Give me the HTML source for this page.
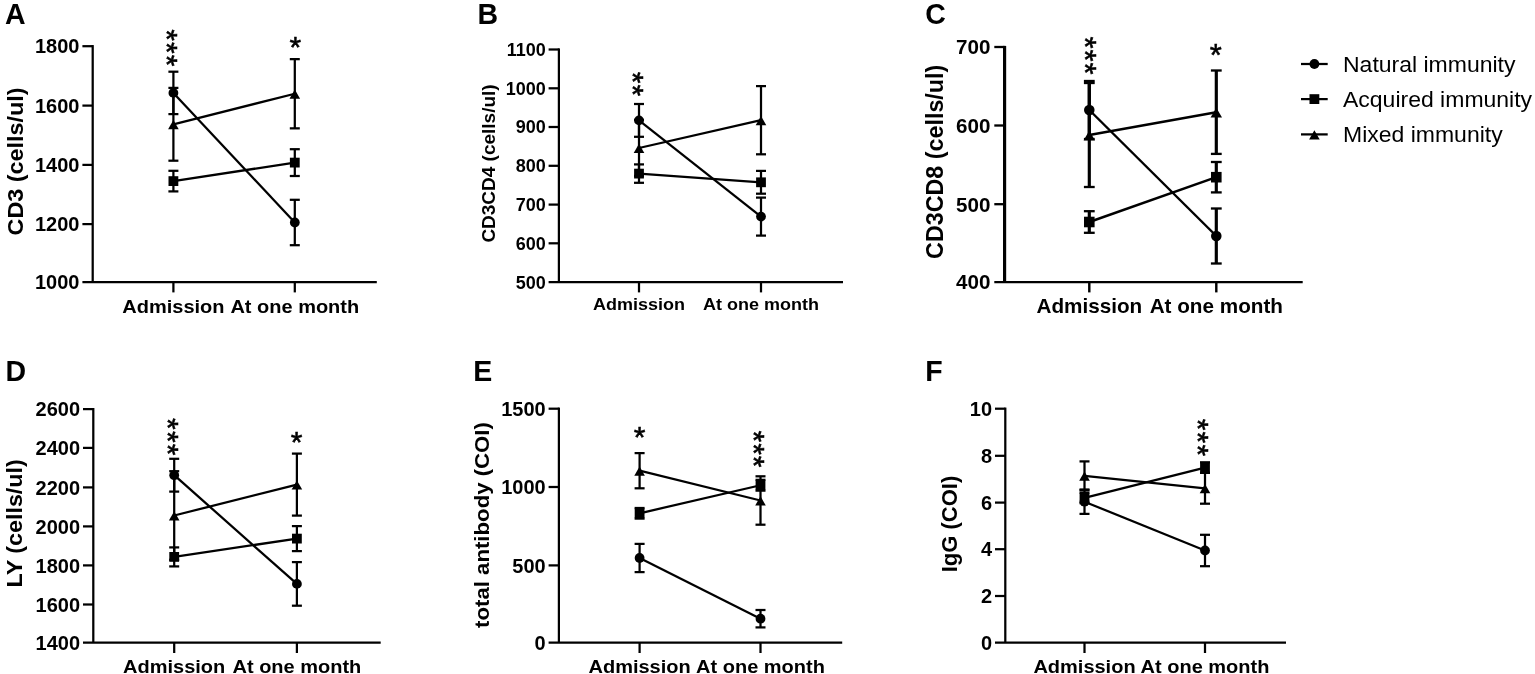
<!DOCTYPE html>
<html lang="en">
<head>
<meta charset="utf-8">
<title>Immunity figure</title>
<style>
html,body{margin:0;padding:0;background:#fff;}
body{width:1535px;height:674px;overflow:hidden;}
svg{display:block;}
svg text{font-family:'Liberation Sans', sans-serif;fill:#000;}
svg line{stroke:#000;fill:none;}
svg circle,svg rect,svg path{fill:#000;stroke:none;}
</style>
</head>
<body>
<svg width="1535" height="674" viewBox="0 0 1535 674">
<rect x="0" y="0" width="1535" height="674" style="fill:#fff"/>
<g id="panelA">
<text transform="translate(4.9,24.0) scale(1,1.03)" font-size="28.5" font-weight="bold">A</text>
<line x1="92.70" y1="45.07" x2="92.70" y2="282.10" stroke-width="2.25"/>
<line x1="82.40" y1="282.10" x2="376.80" y2="282.10" stroke-width="2.25"/>
<line x1="82.40" y1="46.20" x2="92.70" y2="46.20" stroke-width="2.25"/>
<text x="79.50" y="53.36" font-size="20" font-weight="bold" text-anchor="end">1800</text>
<line x1="82.40" y1="105.60" x2="92.70" y2="105.60" stroke-width="2.25"/>
<text x="79.50" y="112.76" font-size="20" font-weight="bold" text-anchor="end">1600</text>
<line x1="82.40" y1="164.90" x2="92.70" y2="164.90" stroke-width="2.25"/>
<text x="79.50" y="172.06" font-size="20" font-weight="bold" text-anchor="end">1400</text>
<line x1="82.40" y1="224.10" x2="92.70" y2="224.10" stroke-width="2.25"/>
<text x="79.50" y="231.26" font-size="20" font-weight="bold" text-anchor="end">1200</text>
<text x="79.50" y="289.26" font-size="20" font-weight="bold" text-anchor="end">1000</text>
<line x1="173.40" y1="282.10" x2="173.40" y2="292.40" stroke-width="2.25"/>
<text transform="translate(173.40,312.5) scale(1.07,1)" font-size="18.69" font-weight="bold" text-anchor="middle">Admission</text>
<line x1="294.80" y1="282.10" x2="294.80" y2="292.40" stroke-width="2.25"/>
<text transform="translate(294.80,312.5) scale(1.07,1)" font-size="18.69" font-weight="bold" text-anchor="middle">At one month</text>
<text transform="translate(22.6,161.4) rotate(-90) scale(1.07,1)" font-size="21.87" font-weight="bold" text-anchor="middle">CD3 (cells/ul)</text>
<line x1="173.40" y1="71.70" x2="173.40" y2="114.10" stroke-width="2.25"/>
<line x1="168.40" y1="71.70" x2="178.40" y2="71.70" stroke-width="2.25"/>
<line x1="168.40" y1="114.10" x2="178.40" y2="114.10" stroke-width="2.25"/>
<line x1="294.80" y1="199.80" x2="294.80" y2="245.20" stroke-width="2.25"/>
<line x1="289.80" y1="199.80" x2="299.80" y2="199.80" stroke-width="2.25"/>
<line x1="289.80" y1="245.20" x2="299.80" y2="245.20" stroke-width="2.25"/>
<line x1="173.40" y1="92.90" x2="294.80" y2="222.50" stroke-width="2.25"/>
<circle cx="173.40" cy="92.90" r="4.90"/>
<circle cx="294.80" cy="222.50" r="4.90"/>
<line x1="173.40" y1="170.80" x2="173.40" y2="191.40" stroke-width="2.25"/>
<line x1="168.40" y1="170.80" x2="178.40" y2="170.80" stroke-width="2.25"/>
<line x1="168.40" y1="191.40" x2="178.40" y2="191.40" stroke-width="2.25"/>
<line x1="294.80" y1="149.20" x2="294.80" y2="176.00" stroke-width="2.25"/>
<line x1="289.80" y1="149.20" x2="299.80" y2="149.20" stroke-width="2.25"/>
<line x1="289.80" y1="176.00" x2="299.80" y2="176.00" stroke-width="2.25"/>
<line x1="173.40" y1="181.10" x2="294.80" y2="162.60" stroke-width="2.25"/>
<rect x="168.50" y="176.20" width="9.80" height="9.80"/>
<rect x="289.90" y="157.70" width="9.80" height="9.80"/>
<line x1="173.40" y1="87.90" x2="173.40" y2="160.70" stroke-width="2.25"/>
<line x1="168.40" y1="87.90" x2="178.40" y2="87.90" stroke-width="2.25"/>
<line x1="168.40" y1="160.70" x2="178.40" y2="160.70" stroke-width="2.25"/>
<line x1="294.80" y1="59.15" x2="294.80" y2="128.35" stroke-width="2.25"/>
<line x1="289.80" y1="59.15" x2="299.80" y2="59.15" stroke-width="2.25"/>
<line x1="289.80" y1="128.35" x2="299.80" y2="128.35" stroke-width="2.25"/>
<line x1="173.40" y1="124.30" x2="294.80" y2="93.75" stroke-width="2.25"/>
<path d="M173.40 120.10 L178.70 129.30 L168.10 129.30 Z"/>
<path d="M294.80 89.55 L300.10 98.75 L289.50 98.75 Z"/>
<text transform="translate(172.45,34.90) rotate(90)" x="-5.78" y="15.45" font-size="30.0" style="stroke:#000;stroke-width:0.55px">*</text>
<text transform="translate(172.45,47.80) rotate(90)" x="-5.78" y="15.45" font-size="30.0" style="stroke:#000;stroke-width:0.55px">*</text>
<text transform="translate(172.45,60.50) rotate(90)" x="-5.78" y="15.45" font-size="30.0" style="stroke:#000;stroke-width:0.55px">*</text>
<text x="289.53" y="57.25" font-size="30.0" style="stroke:#000;stroke-width:0.55px">*</text>
</g>
<g id="panelB">
<text transform="translate(477.5,24.0) scale(1,1.03)" font-size="28.5" font-weight="bold">B</text>
<line x1="558.90" y1="48.38" x2="558.90" y2="282.10" stroke-width="2.25"/>
<line x1="548.60" y1="282.10" x2="843.00" y2="282.10" stroke-width="2.25"/>
<line x1="548.60" y1="49.50" x2="558.90" y2="49.50" stroke-width="2.25"/>
<text x="545.70" y="55.94" font-size="18" font-weight="bold" text-anchor="end">1100</text>
<line x1="548.60" y1="88.30" x2="558.90" y2="88.30" stroke-width="2.25"/>
<text x="545.70" y="94.74" font-size="18" font-weight="bold" text-anchor="end">1000</text>
<line x1="548.60" y1="127.00" x2="558.90" y2="127.00" stroke-width="2.25"/>
<text x="545.70" y="133.44" font-size="18" font-weight="bold" text-anchor="end">900</text>
<line x1="548.60" y1="165.80" x2="558.90" y2="165.80" stroke-width="2.25"/>
<text x="545.70" y="172.24" font-size="18" font-weight="bold" text-anchor="end">800</text>
<line x1="548.60" y1="204.60" x2="558.90" y2="204.60" stroke-width="2.25"/>
<text x="545.70" y="211.04" font-size="18" font-weight="bold" text-anchor="end">700</text>
<line x1="548.60" y1="243.30" x2="558.90" y2="243.30" stroke-width="2.25"/>
<text x="545.70" y="249.74" font-size="18" font-weight="bold" text-anchor="end">600</text>
<text x="545.70" y="288.54" font-size="18" font-weight="bold" text-anchor="end">500</text>
<line x1="639.00" y1="282.10" x2="639.00" y2="292.40" stroke-width="2.25"/>
<text transform="translate(639.00,310.0) scale(1.07,1)" font-size="16.82" font-weight="bold" text-anchor="middle">Admission</text>
<line x1="761.00" y1="282.10" x2="761.00" y2="292.40" stroke-width="2.25"/>
<text transform="translate(761.00,310.0) scale(1.07,1)" font-size="16.82" font-weight="bold" text-anchor="middle">At one month</text>
<text transform="translate(495.4,163.5) rotate(-90) scale(1.07,1)" font-size="17.76" font-weight="bold" text-anchor="middle">CD3CD4 (cells/ul)</text>
<line x1="639.00" y1="104.00" x2="639.00" y2="136.80" stroke-width="2.25"/>
<line x1="634.00" y1="104.00" x2="644.00" y2="104.00" stroke-width="2.25"/>
<line x1="634.00" y1="136.80" x2="644.00" y2="136.80" stroke-width="2.25"/>
<line x1="761.00" y1="197.60" x2="761.00" y2="235.60" stroke-width="2.25"/>
<line x1="756.00" y1="197.60" x2="766.00" y2="197.60" stroke-width="2.25"/>
<line x1="756.00" y1="235.60" x2="766.00" y2="235.60" stroke-width="2.25"/>
<line x1="639.00" y1="120.40" x2="761.00" y2="216.60" stroke-width="2.25"/>
<circle cx="639.00" cy="120.40" r="4.90"/>
<circle cx="761.00" cy="216.60" r="4.90"/>
<line x1="639.00" y1="164.40" x2="639.00" y2="182.80" stroke-width="2.25"/>
<line x1="634.00" y1="164.40" x2="644.00" y2="164.40" stroke-width="2.25"/>
<line x1="634.00" y1="182.80" x2="644.00" y2="182.80" stroke-width="2.25"/>
<line x1="761.00" y1="170.90" x2="761.00" y2="193.70" stroke-width="2.25"/>
<line x1="756.00" y1="170.90" x2="766.00" y2="170.90" stroke-width="2.25"/>
<line x1="756.00" y1="193.70" x2="766.00" y2="193.70" stroke-width="2.25"/>
<line x1="639.00" y1="173.60" x2="761.00" y2="182.30" stroke-width="2.25"/>
<rect x="634.10" y="168.70" width="9.80" height="9.80"/>
<rect x="756.10" y="177.40" width="9.80" height="9.80"/>
<line x1="639.00" y1="120.00" x2="639.00" y2="176.00" stroke-width="2.25"/>
<line x1="634.00" y1="120.00" x2="644.00" y2="120.00" stroke-width="2.25"/>
<line x1="634.00" y1="176.00" x2="644.00" y2="176.00" stroke-width="2.25"/>
<line x1="761.00" y1="86.10" x2="761.00" y2="154.30" stroke-width="2.25"/>
<line x1="756.00" y1="86.10" x2="766.00" y2="86.10" stroke-width="2.25"/>
<line x1="756.00" y1="154.30" x2="766.00" y2="154.30" stroke-width="2.25"/>
<line x1="639.00" y1="148.00" x2="761.00" y2="120.20" stroke-width="2.25"/>
<path d="M639.00 143.80 L644.30 153.00 L633.70 153.00 Z"/>
<path d="M761.00 116.00 L766.30 125.20 L755.70 125.20 Z"/>
<text transform="translate(638.50,77.50) rotate(90)" x="-5.78" y="15.45" font-size="30.0" style="stroke:#000;stroke-width:0.55px">*</text>
<text transform="translate(638.50,90.20) rotate(90)" x="-5.78" y="15.45" font-size="30.0" style="stroke:#000;stroke-width:0.55px">*</text>
</g>
<g id="panelC">
<text transform="translate(925.2,24.0) scale(1,1.03)" font-size="28.5" font-weight="bold">C</text>
<line x1="1004.60" y1="45.88" x2="1004.60" y2="282.10" stroke-width="3.16"/>
<line x1="994.30" y1="282.10" x2="1302.70" y2="282.10" stroke-width="2.31"/>
<line x1="994.30" y1="47.00" x2="1004.60" y2="47.00" stroke-width="2.31"/>
<text x="990.40" y="54.37" font-size="20.6" font-weight="bold" text-anchor="end">700</text>
<line x1="994.30" y1="125.50" x2="1004.60" y2="125.50" stroke-width="2.31"/>
<text x="990.40" y="132.87" font-size="20.6" font-weight="bold" text-anchor="end">600</text>
<line x1="994.30" y1="204.20" x2="1004.60" y2="204.20" stroke-width="2.31"/>
<text x="990.40" y="211.57" font-size="20.6" font-weight="bold" text-anchor="end">500</text>
<text x="990.40" y="289.47" font-size="20.6" font-weight="bold" text-anchor="end">400</text>
<line x1="1089.30" y1="282.10" x2="1089.30" y2="292.40" stroke-width="2.43"/>
<text transform="translate(1089.30,312.5) scale(1.07,1)" font-size="19.35" font-weight="bold" text-anchor="middle">Admission</text>
<line x1="1216.30" y1="282.10" x2="1216.30" y2="292.40" stroke-width="2.43"/>
<text transform="translate(1216.30,312.5) scale(1.07,1)" font-size="19.35" font-weight="bold" text-anchor="middle">At one month</text>
<text transform="translate(943.3,161.8) rotate(-90) scale(1.0,1)" font-size="23.30" font-weight="bold" text-anchor="middle">CD3CD8 (cells/ul)</text>
<line x1="1089.30" y1="81.00" x2="1089.30" y2="139.00" stroke-width="3.16"/>
<line x1="1083.90" y1="81.00" x2="1094.70" y2="81.00" stroke-width="2.31"/>
<line x1="1083.90" y1="139.00" x2="1094.70" y2="139.00" stroke-width="2.31"/>
<line x1="1216.30" y1="208.50" x2="1216.30" y2="263.50" stroke-width="3.16"/>
<line x1="1210.90" y1="208.50" x2="1221.70" y2="208.50" stroke-width="2.31"/>
<line x1="1210.90" y1="263.50" x2="1221.70" y2="263.50" stroke-width="2.31"/>
<line x1="1089.30" y1="110.00" x2="1216.30" y2="236.00" stroke-width="2.43"/>
<circle cx="1089.30" cy="110.00" r="5.29"/>
<circle cx="1216.30" cy="236.00" r="5.29"/>
<line x1="1089.30" y1="211.20" x2="1089.30" y2="232.80" stroke-width="3.16"/>
<line x1="1083.90" y1="211.20" x2="1094.70" y2="211.20" stroke-width="2.31"/>
<line x1="1083.90" y1="232.80" x2="1094.70" y2="232.80" stroke-width="2.31"/>
<line x1="1216.30" y1="162.00" x2="1216.30" y2="192.40" stroke-width="3.16"/>
<line x1="1210.90" y1="162.00" x2="1221.70" y2="162.00" stroke-width="2.31"/>
<line x1="1210.90" y1="192.40" x2="1221.70" y2="192.40" stroke-width="2.31"/>
<line x1="1089.30" y1="222.00" x2="1216.30" y2="177.20" stroke-width="2.43"/>
<rect x="1084.01" y="216.71" width="10.58" height="10.58"/>
<rect x="1211.01" y="171.91" width="10.58" height="10.58"/>
<line x1="1089.30" y1="83.00" x2="1089.30" y2="187.00" stroke-width="3.16"/>
<line x1="1083.90" y1="83.00" x2="1094.70" y2="83.00" stroke-width="2.31"/>
<line x1="1083.90" y1="187.00" x2="1094.70" y2="187.00" stroke-width="2.31"/>
<line x1="1216.30" y1="70.50" x2="1216.30" y2="153.90" stroke-width="3.16"/>
<line x1="1210.90" y1="70.50" x2="1221.70" y2="70.50" stroke-width="2.31"/>
<line x1="1210.90" y1="153.90" x2="1221.70" y2="153.90" stroke-width="2.31"/>
<line x1="1089.30" y1="135.00" x2="1216.30" y2="112.20" stroke-width="2.43"/>
<path d="M1089.30 130.46 L1095.02 140.40 L1083.58 140.40 Z"/>
<path d="M1216.30 107.66 L1222.02 117.60 L1210.58 117.60 Z"/>
<text transform="translate(1090.30,42.50) rotate(90)" x="-5.95" y="15.91" font-size="30.900000000000002" style="stroke:#000;stroke-width:0.55px">*</text>
<text transform="translate(1090.30,55.40) rotate(90)" x="-5.95" y="15.91" font-size="30.900000000000002" style="stroke:#000;stroke-width:0.55px">*</text>
<text transform="translate(1090.30,68.40) rotate(90)" x="-5.95" y="15.91" font-size="30.900000000000002" style="stroke:#000;stroke-width:0.55px">*</text>
<text x="1209.85" y="66.31" font-size="30.900000000000002" style="stroke:#000;stroke-width:0.55px">*</text>
</g>
<g id="panelD">
<text transform="translate(5.4,380.9) scale(1,1.03)" font-size="28.5" font-weight="bold">D</text>
<line x1="93.30" y1="407.97" x2="93.30" y2="642.70" stroke-width="2.25"/>
<line x1="83.00" y1="642.70" x2="380.70" y2="642.70" stroke-width="2.25"/>
<line x1="83.00" y1="409.10" x2="93.30" y2="409.10" stroke-width="2.25"/>
<text x="80.10" y="416.26" font-size="20" font-weight="bold" text-anchor="end">2600</text>
<line x1="83.00" y1="447.90" x2="93.30" y2="447.90" stroke-width="2.25"/>
<text x="80.10" y="455.06" font-size="20" font-weight="bold" text-anchor="end">2400</text>
<line x1="83.00" y1="487.40" x2="93.30" y2="487.40" stroke-width="2.25"/>
<text x="80.10" y="494.56" font-size="20" font-weight="bold" text-anchor="end">2200</text>
<line x1="83.00" y1="526.40" x2="93.30" y2="526.40" stroke-width="2.25"/>
<text x="80.10" y="533.56" font-size="20" font-weight="bold" text-anchor="end">2000</text>
<line x1="83.00" y1="565.40" x2="93.30" y2="565.40" stroke-width="2.25"/>
<text x="80.10" y="572.56" font-size="20" font-weight="bold" text-anchor="end">1800</text>
<line x1="83.00" y1="604.50" x2="93.30" y2="604.50" stroke-width="2.25"/>
<text x="80.10" y="611.66" font-size="20" font-weight="bold" text-anchor="end">1600</text>
<text x="80.10" y="649.86" font-size="20" font-weight="bold" text-anchor="end">1400</text>
<line x1="174.20" y1="642.70" x2="174.20" y2="653.00" stroke-width="2.25"/>
<text transform="translate(174.20,672.7) scale(1.07,1)" font-size="18.69" font-weight="bold" text-anchor="middle">Admission</text>
<line x1="296.90" y1="642.70" x2="296.90" y2="653.00" stroke-width="2.25"/>
<text transform="translate(296.90,672.7) scale(1.07,1)" font-size="18.69" font-weight="bold" text-anchor="middle">At one month</text>
<text transform="translate(21.9,523.3) rotate(-90) scale(1.07,1)" font-size="21.78" font-weight="bold" text-anchor="middle">LY (cells/ul)</text>
<line x1="174.20" y1="458.80" x2="174.20" y2="491.60" stroke-width="2.25"/>
<line x1="169.20" y1="458.80" x2="179.20" y2="458.80" stroke-width="2.25"/>
<line x1="169.20" y1="491.60" x2="179.20" y2="491.60" stroke-width="2.25"/>
<line x1="296.90" y1="562.10" x2="296.90" y2="605.70" stroke-width="2.25"/>
<line x1="291.90" y1="562.10" x2="301.90" y2="562.10" stroke-width="2.25"/>
<line x1="291.90" y1="605.70" x2="301.90" y2="605.70" stroke-width="2.25"/>
<line x1="174.20" y1="475.20" x2="296.90" y2="583.90" stroke-width="2.25"/>
<circle cx="174.20" cy="475.20" r="4.90"/>
<circle cx="296.90" cy="583.90" r="4.90"/>
<line x1="174.20" y1="547.40" x2="174.20" y2="566.40" stroke-width="2.25"/>
<line x1="169.20" y1="547.40" x2="179.20" y2="547.40" stroke-width="2.25"/>
<line x1="169.20" y1="566.40" x2="179.20" y2="566.40" stroke-width="2.25"/>
<line x1="296.90" y1="526.10" x2="296.90" y2="551.10" stroke-width="2.25"/>
<line x1="291.90" y1="526.10" x2="301.90" y2="526.10" stroke-width="2.25"/>
<line x1="291.90" y1="551.10" x2="301.90" y2="551.10" stroke-width="2.25"/>
<line x1="174.20" y1="556.90" x2="296.90" y2="538.60" stroke-width="2.25"/>
<rect x="169.30" y="552.00" width="9.80" height="9.80"/>
<rect x="292.00" y="533.70" width="9.80" height="9.80"/>
<line x1="174.20" y1="471.20" x2="174.20" y2="559.80" stroke-width="2.25"/>
<line x1="169.20" y1="471.20" x2="179.20" y2="471.20" stroke-width="2.25"/>
<line x1="169.20" y1="559.80" x2="179.20" y2="559.80" stroke-width="2.25"/>
<line x1="296.90" y1="453.60" x2="296.90" y2="515.60" stroke-width="2.25"/>
<line x1="291.90" y1="453.60" x2="301.90" y2="453.60" stroke-width="2.25"/>
<line x1="291.90" y1="515.60" x2="301.90" y2="515.60" stroke-width="2.25"/>
<line x1="174.20" y1="515.50" x2="296.90" y2="484.60" stroke-width="2.25"/>
<path d="M174.20 511.30 L179.50 520.50 L168.90 520.50 Z"/>
<path d="M296.90 480.40 L302.20 489.60 L291.60 489.60 Z"/>
<text transform="translate(173.70,423.80) rotate(90)" x="-5.78" y="15.45" font-size="30.0" style="stroke:#000;stroke-width:0.55px">*</text>
<text transform="translate(173.70,436.70) rotate(90)" x="-5.78" y="15.45" font-size="30.0" style="stroke:#000;stroke-width:0.55px">*</text>
<text transform="translate(173.70,449.40) rotate(90)" x="-5.78" y="15.45" font-size="30.0" style="stroke:#000;stroke-width:0.55px">*</text>
<text x="290.83" y="451.95" font-size="30.0" style="stroke:#000;stroke-width:0.55px">*</text>
</g>
<g id="panelE">
<text transform="translate(473.2,380.9) scale(1,1.03)" font-size="28.5" font-weight="bold">E</text>
<line x1="558.90" y1="407.57" x2="558.90" y2="642.70" stroke-width="2.25"/>
<line x1="548.60" y1="642.70" x2="842.20" y2="642.70" stroke-width="2.25"/>
<line x1="548.60" y1="408.70" x2="558.90" y2="408.70" stroke-width="2.25"/>
<text x="545.70" y="415.86" font-size="20" font-weight="bold" text-anchor="end">1500</text>
<line x1="548.60" y1="487.00" x2="558.90" y2="487.00" stroke-width="2.25"/>
<text x="545.70" y="494.16" font-size="20" font-weight="bold" text-anchor="end">1000</text>
<line x1="548.60" y1="565.40" x2="558.90" y2="565.40" stroke-width="2.25"/>
<text x="545.70" y="572.56" font-size="20" font-weight="bold" text-anchor="end">500</text>
<text x="545.70" y="649.86" font-size="20" font-weight="bold" text-anchor="end">0</text>
<line x1="639.60" y1="642.70" x2="639.60" y2="653.00" stroke-width="2.25"/>
<text transform="translate(639.60,672.7) scale(1.07,1)" font-size="18.69" font-weight="bold" text-anchor="middle">Admission</text>
<line x1="760.50" y1="642.70" x2="760.50" y2="653.00" stroke-width="2.25"/>
<text transform="translate(760.50,672.7) scale(1.07,1)" font-size="18.69" font-weight="bold" text-anchor="middle">At one month</text>
<text transform="translate(489.4,525.0) rotate(-90) scale(1.07,1)" font-size="20.75" font-weight="bold" text-anchor="middle">total antibody (COI)</text>
<line x1="639.60" y1="543.90" x2="639.60" y2="572.10" stroke-width="2.25"/>
<line x1="634.60" y1="543.90" x2="644.60" y2="543.90" stroke-width="2.25"/>
<line x1="634.60" y1="572.10" x2="644.60" y2="572.10" stroke-width="2.25"/>
<line x1="760.50" y1="610.00" x2="760.50" y2="627.40" stroke-width="2.25"/>
<line x1="755.50" y1="610.00" x2="765.50" y2="610.00" stroke-width="2.25"/>
<line x1="755.50" y1="627.40" x2="765.50" y2="627.40" stroke-width="2.25"/>
<line x1="639.60" y1="558.00" x2="760.50" y2="618.70" stroke-width="2.25"/>
<circle cx="639.60" cy="558.00" r="4.90"/>
<circle cx="760.50" cy="618.70" r="4.90"/>
<line x1="639.60" y1="508.00" x2="639.60" y2="518.60" stroke-width="2.25"/>
<line x1="634.60" y1="508.00" x2="644.60" y2="508.00" stroke-width="2.25"/>
<line x1="634.60" y1="518.60" x2="644.60" y2="518.60" stroke-width="2.25"/>
<line x1="760.50" y1="479.85" x2="760.50" y2="490.65" stroke-width="2.25"/>
<line x1="755.50" y1="479.85" x2="765.50" y2="479.85" stroke-width="2.25"/>
<line x1="755.50" y1="490.65" x2="765.50" y2="490.65" stroke-width="2.25"/>
<line x1="639.60" y1="513.30" x2="760.50" y2="485.25" stroke-width="2.25"/>
<rect x="634.70" y="508.40" width="9.80" height="9.80"/>
<rect x="755.60" y="480.35" width="9.80" height="9.80"/>
<line x1="639.60" y1="453.10" x2="639.60" y2="488.30" stroke-width="2.25"/>
<line x1="634.60" y1="453.10" x2="644.60" y2="453.10" stroke-width="2.25"/>
<line x1="634.60" y1="488.30" x2="644.60" y2="488.30" stroke-width="2.25"/>
<line x1="760.50" y1="476.30" x2="760.50" y2="524.70" stroke-width="2.25"/>
<line x1="755.50" y1="476.30" x2="765.50" y2="476.30" stroke-width="2.25"/>
<line x1="755.50" y1="524.70" x2="765.50" y2="524.70" stroke-width="2.25"/>
<line x1="639.60" y1="470.70" x2="760.50" y2="500.50" stroke-width="2.25"/>
<path d="M639.60 466.50 L644.90 475.70 L634.30 475.70 Z"/>
<path d="M760.50 496.30 L765.80 505.50 L755.20 505.50 Z"/>
<text x="633.83" y="447.25" font-size="30.0" style="stroke:#000;stroke-width:0.55px">*</text>
<text transform="translate(759.70,436.20) rotate(90)" x="-5.78" y="15.45" font-size="30.0" style="stroke:#000;stroke-width:0.55px">*</text>
<text transform="translate(759.70,448.90) rotate(90)" x="-5.78" y="15.45" font-size="30.0" style="stroke:#000;stroke-width:0.55px">*</text>
<text transform="translate(759.70,461.60) rotate(90)" x="-5.78" y="15.45" font-size="30.0" style="stroke:#000;stroke-width:0.55px">*</text>
</g>
<g id="panelF">
<text transform="translate(925.2,380.9) scale(1,1.03)" font-size="28.5" font-weight="bold">F</text>
<line x1="1005.30" y1="407.57" x2="1005.30" y2="642.70" stroke-width="2.25"/>
<line x1="995.00" y1="642.70" x2="1286.00" y2="642.70" stroke-width="2.25"/>
<line x1="995.00" y1="408.70" x2="1005.30" y2="408.70" stroke-width="2.25"/>
<text x="992.10" y="415.86" font-size="20" font-weight="bold" text-anchor="end">10</text>
<line x1="995.00" y1="455.80" x2="1005.30" y2="455.80" stroke-width="2.25"/>
<text x="992.10" y="462.96" font-size="20" font-weight="bold" text-anchor="end">8</text>
<line x1="995.00" y1="502.60" x2="1005.30" y2="502.60" stroke-width="2.25"/>
<text x="992.10" y="509.76" font-size="20" font-weight="bold" text-anchor="end">6</text>
<line x1="995.00" y1="549.20" x2="1005.30" y2="549.20" stroke-width="2.25"/>
<text x="992.10" y="556.36" font-size="20" font-weight="bold" text-anchor="end">4</text>
<line x1="995.00" y1="596.00" x2="1005.30" y2="596.00" stroke-width="2.25"/>
<text x="992.10" y="603.16" font-size="20" font-weight="bold" text-anchor="end">2</text>
<text x="992.10" y="649.86" font-size="20" font-weight="bold" text-anchor="end">0</text>
<line x1="1084.50" y1="642.70" x2="1084.50" y2="653.00" stroke-width="2.25"/>
<text transform="translate(1084.50,672.7) scale(1.07,1)" font-size="18.69" font-weight="bold" text-anchor="middle">Admission</text>
<line x1="1205.00" y1="642.70" x2="1205.00" y2="653.00" stroke-width="2.25"/>
<text transform="translate(1205.00,672.7) scale(1.07,1)" font-size="18.69" font-weight="bold" text-anchor="middle">At one month</text>
<text transform="translate(956.6,524) rotate(-90) scale(1.0,1)" font-size="22.00" font-weight="bold" text-anchor="middle">IgG (COI)</text>
<line x1="1084.50" y1="489.50" x2="1084.50" y2="513.90" stroke-width="2.25"/>
<line x1="1079.50" y1="489.50" x2="1089.50" y2="489.50" stroke-width="2.25"/>
<line x1="1079.50" y1="513.90" x2="1089.50" y2="513.90" stroke-width="2.25"/>
<line x1="1205.00" y1="534.80" x2="1205.00" y2="566.20" stroke-width="2.25"/>
<line x1="1200.00" y1="534.80" x2="1210.00" y2="534.80" stroke-width="2.25"/>
<line x1="1200.00" y1="566.20" x2="1210.00" y2="566.20" stroke-width="2.25"/>
<line x1="1084.50" y1="501.70" x2="1205.00" y2="550.50" stroke-width="2.25"/>
<circle cx="1084.50" cy="501.70" r="4.90"/>
<circle cx="1205.00" cy="550.50" r="4.90"/>
<line x1="1084.50" y1="492.60" x2="1084.50" y2="503.20" stroke-width="2.25"/>
<line x1="1079.50" y1="492.60" x2="1089.50" y2="492.60" stroke-width="2.25"/>
<line x1="1079.50" y1="503.20" x2="1089.50" y2="503.20" stroke-width="2.25"/>
<line x1="1205.00" y1="462.30" x2="1205.00" y2="472.90" stroke-width="2.25"/>
<line x1="1200.00" y1="462.30" x2="1210.00" y2="462.30" stroke-width="2.25"/>
<line x1="1200.00" y1="472.90" x2="1210.00" y2="472.90" stroke-width="2.25"/>
<line x1="1084.50" y1="497.90" x2="1205.00" y2="467.60" stroke-width="2.25"/>
<rect x="1079.60" y="493.00" width="9.80" height="9.80"/>
<rect x="1200.10" y="462.70" width="9.80" height="9.80"/>
<line x1="1084.50" y1="461.40" x2="1084.50" y2="490.20" stroke-width="2.25"/>
<line x1="1079.50" y1="461.40" x2="1089.50" y2="461.40" stroke-width="2.25"/>
<line x1="1079.50" y1="490.20" x2="1089.50" y2="490.20" stroke-width="2.25"/>
<line x1="1205.00" y1="472.90" x2="1205.00" y2="503.70" stroke-width="2.25"/>
<line x1="1200.00" y1="472.90" x2="1210.00" y2="472.90" stroke-width="2.25"/>
<line x1="1200.00" y1="503.70" x2="1210.00" y2="503.70" stroke-width="2.25"/>
<line x1="1084.50" y1="475.80" x2="1205.00" y2="488.30" stroke-width="2.25"/>
<path d="M1084.50 471.60 L1089.80 480.80 L1079.20 480.80 Z"/>
<path d="M1205.00 484.10 L1210.30 493.30 L1199.70 493.30 Z"/>
<text transform="translate(1203.80,424.40) rotate(90)" x="-5.78" y="15.45" font-size="30.0" style="stroke:#000;stroke-width:0.55px">*</text>
<text transform="translate(1203.80,437.30) rotate(90)" x="-5.78" y="15.45" font-size="30.0" style="stroke:#000;stroke-width:0.55px">*</text>
<text transform="translate(1203.80,450.20) rotate(90)" x="-5.78" y="15.45" font-size="30.0" style="stroke:#000;stroke-width:0.55px">*</text>
</g>
<g id="legend">
<line x1="1301.00" y1="64.00" x2="1327.70" y2="64.00" stroke-width="2.25"/>
<circle cx="1314.4" cy="64.0" r="4.9"/>
<text transform="translate(1343,71.7) scale(1.045,1)" font-size="22.01">Natural immunity</text>
<line x1="1301.00" y1="99.10" x2="1327.70" y2="99.10" stroke-width="2.25"/>
<rect x="1309.5" y="94.19999999999999" width="9.8" height="9.8"/>
<text transform="translate(1343,106.8) scale(1.045,1)" font-size="22.01">Acquired immunity</text>
<line x1="1301.00" y1="134.40" x2="1327.70" y2="134.40" stroke-width="2.25"/>
<path d="M1314.4 130.20000000000002 L1319.7 139.4 L1309.1000000000001 139.4 Z"/>
<text transform="translate(1343,141.9) scale(1.045,1)" font-size="22.01">Mixed immunity</text>
</g>
</svg>
</body>
</html>
